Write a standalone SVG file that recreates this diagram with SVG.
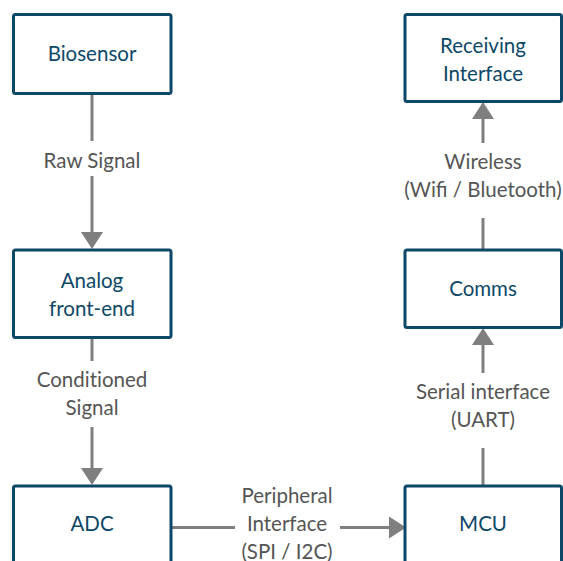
<svg xmlns="http://www.w3.org/2000/svg" width="563" height="561" viewBox="0 0 563 561">
<defs>
<style>
.box{fill:#fff;stroke:#0e4868;stroke-width:3;}
.nt{font-family:Lato,"Open Sans",sans-serif;font-size:20.5px;fill:#0e4868;text-anchor:middle;}
.et{font-family:Lato,"Open Sans",sans-serif;font-size:20.5px;fill:#555;text-anchor:middle;}
.nolig{font-variant-ligatures:none;}
.ln{stroke:#7f7f7f;stroke-width:3;fill:none;}
.ah{fill:#7f7f7f;}
</style>
</defs>
<rect width="563" height="561" fill="#fff"/>
<g id="connectors">
<line class="ln" x1="92" y1="94" x2="92" y2="141"/>
<line class="ln" x1="92" y1="176" x2="92" y2="234"/>
<polygon class="ah" points="81,232 103,232 92,249"/>
<text class="et" x="92" y="168">Raw Signal</text>

<line class="ln" x1="92" y1="338" x2="92" y2="361"/>
<line class="ln" x1="92" y1="427" x2="92" y2="470"/>
<polygon class="ah" points="81,468 103,468 92,485"/>
<text class="et nolig" x="92" y="387">Conditioned</text>
<text class="et" x="92" y="415">Signal</text>

<line class="ln" x1="171" y1="527.5" x2="235" y2="527.5"/>
<line class="ln" x1="340" y1="527.5" x2="391" y2="527.5"/>
<polygon class="ah" points="389,516.5 389,538.5 406,527.5"/>
<text class="et" x="287" y="503">Peripheral</text>
<text class="et" x="287" y="531">Interface</text>
<text class="et" x="287" y="559">(SPI / I2C)</text>

<line class="ln" x1="483" y1="486" x2="483" y2="448"/>
<line class="ln" x1="483" y1="373" x2="483" y2="343"/>
<polygon class="ah" points="472,345 494,345 483,328"/>
<text class="et" x="483" y="399">Serial interface</text>
<text class="et" x="483" y="427">(UART)</text>

<line class="ln" x1="483" y1="249" x2="483" y2="218"/>
<line class="ln" x1="483" y1="143" x2="483" y2="117"/>
<polygon class="ah" points="472,119 494,119 483,102"/>
<text class="et" x="483" y="169">Wireless</text>
<text class="et" x="483" y="197">(Wifi / Bluetooth)</text>
</g>
<g id="biosensor">
<rect class="box" x="13.5" y="14.5" width="157.5" height="79" rx="2"/>
<text class="nt" x="92" y="61">Biosensor</text>
</g>
<g id="analog">
<rect class="box" x="13.5" y="250" width="157.5" height="87.5" rx="2"/>
<text class="nt" x="92" y="288">Analog</text>
<text class="nt" x="92" y="316">front-end</text>
</g>
<g id="adc">
<rect class="box" x="13.5" y="486" width="157.5" height="90" rx="2"/>
<text class="nt" x="92" y="531">ADC</text>
</g>
<g id="receiving">
<rect class="box" x="405" y="14.5" width="156.5" height="87" rx="2"/>
<text class="nt" x="483" y="53">Receiving</text>
<text class="nt" x="483" y="81">Interface</text>
</g>
<g id="comms">
<rect class="box" x="405" y="250" width="156.5" height="77.5" rx="2"/>
<text class="nt" x="483" y="296">Comms</text>
</g>
<g id="mcu">
<rect class="box" x="405" y="486" width="156.5" height="90" rx="2"/>
<text class="nt" x="483" y="531">MCU</text>
</g>
</svg>
